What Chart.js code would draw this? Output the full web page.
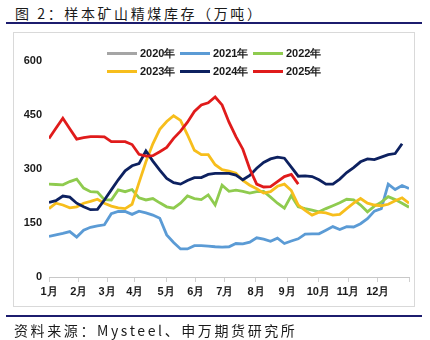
<!DOCTYPE html>
<html>
<head>
<meta charset="utf-8">
<script src="https://cdn.jsdelivr.net/npm/chart.js@4.4.1/dist/chart.umd.min.js"></script>
<style>
  body { margin: 0; background: #fff; }
  #wrap { position: relative; width: 430px; height: 340px; overflow: hidden; font-family: "Noto Sans CJK SC", sans-serif; }
  #title { position: absolute; left: 15px; top: 3px; font-size: 14px; letter-spacing: 2.6px; color: #1a1a1a; white-space: nowrap; }
  .rule { position: absolute; left: 6px; width: 416px; height: 2px; background: #1c1c6e; }
  #box { position: absolute; left: 13px; top: 32px; width: 400px; height: 273px; border: 1px solid #d9d9d9; }
  #source { position: absolute; left: 14px; top: 320px; font-size: 14px; letter-spacing: 2.6px; color: #1a1a1a; white-space: nowrap; }
  canvas { position: absolute; left: 0; top: 0; }
  #legend { position: absolute; left: 107px; top: 45px; width: 230px; display: grid; grid-template-columns: 73px 73px 73px; row-gap: 2px; }
  .item { display: flex; align-items: center; height: 16px; font: bold 11px "Liberation Sans", Arial, sans-serif; color: #1a1a1a; }
  .item span.swatch { display: inline-block; width: 30px; height: 3px; margin-right: 3px; }
</style>
</head>
<body>
<div id="wrap">
  <div id="title">图 2：样本矿山精煤库存（万吨）</div>
  <div class="rule" style="top:22px"></div>
  <div id="box"></div>
  <canvas id="c" width="430" height="340"></canvas>
  <div id="legend"></div>
  <div class="rule" style="top:315px"></div>
  <div id="source">资料来源：Mysteel、申万期货研究所</div>
</div>
<script>
// weekly samples, index = week of year
const seriesNames = ["2020年", "2021年", "2022年", "2023年", "2024年", "2025年"];
const seriesColors = ["#a5a5a5", "#5b9bd5", "#8fcb4f", "#f7be1c", "#0d2160", "#e01b1b"];

const y2020 = [];
const y2021 = [113, 117, 121, 126, 111, 130, 138, 142, 145, 176, 182, 182, 174, 183, 178, 172, 163, 117, 96, 78,
  78, 87, 87, 86, 84, 83, 84, 93, 92, 97, 109, 105, 99, 108, 93, 100, 106, 119, 120, 120,
  130, 140, 132, 140, 139, 148, 162, 183, 190, 258, 243, 254, 246];
const y2022 = [258, 257, 256, 265, 272, 247, 237, 236, 215, 214, 242, 237, 243, 220, 214, 218, 206, 195, 191, 205,
  225, 218, 215, 228, 200, 255, 238, 241, 238, 233, 237, 238, 222, 205, 191, 226, 195, 190, 186, 181,
  190, 198, 206, 216, 214, 200, 181, 197, 208, 223, 215, 205, 194];
const y2023 = [190, 205, 200, 192, 195, 205, 210, 216, 205, 197, 192, 190, 202, 262, 320, 370, 410, 432, 448, 435,
  395, 352, 340, 340, 312, 298, 294, 288, 268, 255, 245, 233, 237, 252, 258, 240, 200, 185, 172, 180,
  178, 172, 174, 190, 205, 218, 205, 200, 198, 202, 212, 220, 205];
const y2024 = [207, 212, 225, 222, 205, 195, 187, 188, 214, 242, 270, 295, 309, 315, 350, 322, 297, 274, 262, 258,
  268, 276, 276, 285, 288, 288, 288, 283, 270, 282, 302, 318, 328, 333, 330, 305, 280, 281, 279, 270,
  258, 258, 272, 290, 304, 320, 328, 326, 333, 340, 343, 370];
const y2025 = [385, 413, 441, 412, 383, 387, 390, 390, 389, 376, 376, 376, 368, 341, 336, 337, 348, 360, 385, 405,
  430, 460, 478, 484, 500, 478, 430, 390, 355, 300, 258, 250, 251, 265, 279, 285, 258];

const monthLabels = ["1月", "2月", "3月", "4月", "5月", "6月", "7月", "8月", "9月", "10月", "11月", "12月", ""];
const monthWeeks = [0, 4.3, 8.4, 12.4, 16.9, 21.2, 25.4, 29.9, 34.4, 38.9, 43.2, 47.5, 52];
const yTicks = [0, 150, 300, 450, 600];

const allSeries = [y2020, y2021, y2022, y2023, y2024, y2025];

const datasets = allSeries.map((vals, i) => ({
  label: seriesNames[i],
  data: vals.map((v, w) => ({ x: w, y: v })),
  borderColor: seriesColors[i],
  backgroundColor: seriesColors[i],
  borderWidth: 2.8,
  pointRadius: 0,
  tension: 0,
  order: allSeries.length - i
}));

const tickFont = { family: "'Liberation Sans', Arial, sans-serif", size: 11, weight: "bold" };

const chart = new Chart(document.getElementById("c"), {
  type: "line",
  data: { datasets: datasets },
  options: {
    responsive: false,
    animation: false,
    devicePixelRatio: 1,
    layout: { padding: { left: 0, top: 61, right: 21, bottom: 38 } },
    plugins: { legend: { display: false }, tooltip: { enabled: false } },
    scales: {
      x: {
        type: "linear",
        min: 0,
        max: 52,
        afterFit: s => { s.height = 25; },
        afterBuildTicks: s => { s.ticks = monthWeeks.map(v => ({ value: v })); },
        ticks: {
          autoSkip: false,
          maxRotation: 0,
          padding: 3,
          color: "#1a1a1a",
          font: tickFont,
          callback: (v, i) => monthLabels[i]
        },
        grid: { drawOnChartArea: false, drawTicks: true, tickLength: 5, color: "#d0d0d0" },
        border: { display: true, color: "#c8c8c8", width: 1 }
      },
      y: {
        min: 0,
        max: 600,
        afterFit: s => { s.width = 49; },
        afterBuildTicks: s => { s.ticks = yTicks.map(v => ({ value: v })); },
        ticks: { padding: 7, color: "#1a1a1a", font: tickFont },
        grid: { display: false, drawTicks: false },
        border: { display: false }
      }
    }
  }
});

// legend built from the chart's datasets
const legend = document.getElementById("legend");
chart.data.datasets.forEach(ds => {
  const item = document.createElement("div");
  item.className = "item";
  const sw = document.createElement("span");
  sw.className = "swatch";
  sw.style.background = ds.borderColor;
  item.appendChild(sw);
  item.appendChild(document.createTextNode(ds.label));
  legend.appendChild(item);
});
</script>
</body>
</html>
